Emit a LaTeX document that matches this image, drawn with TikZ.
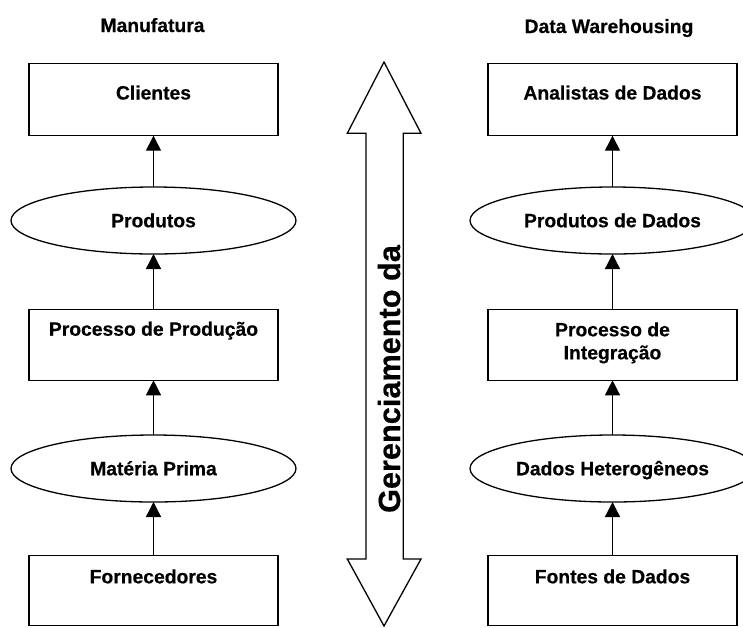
\documentclass[tikz,border=0pt]{standalone}
\usepackage{fontspec}
\setmainfont{Liberation Sans}[BoldFont={Liberation Sans Bold},BoldFeatures={FakeBold=0.5}]
\usetikzlibrary{shapes.geometric,arrows.meta}
\begin{document}
\begin{tikzpicture}[x=1pt,y=-1pt,
  every node/.style={font=\fontsize{19.3}{23}\selectfont\bfseries, inner sep=0pt, outer sep=0pt},
  stage/.style={draw, line width=1.3pt, rectangle, minimum width=249pt},
  pool/.style={draw, line width=1.3pt, ellipse, minimum width=285pt, minimum height=67pt,
               text height=13.5pt, text depth=0pt},
  flow/.style={line width=1.3pt, -{Triangle[length=15pt,width=15pt]}},
  heading/.style={anchor=base},
  axislabel/.style={font=\fontsize{30.7}{36}\selectfont\bfseries, rotate=90, anchor=base}
]
\useasboundingbox (0,0) rectangle (743,627);
\clip (0,0) rectangle (743,627);

% column headings
\node[heading] (hman) at (152.5,32) {Manufatura};
\node[heading] (hdw)  at (609,33) {Data Warehousing};

% manufacturing chain
\node[stage, text height=36.2pt, text depth=36.2pt] (cli)  at (153.5,99.5)  {Clientes};
\node[pool]                                          (prod) at (153.5,220.5) {Produtos};
\node[stage, text height=26.4pt, text depth=44.6pt] (proc) at (153.5,344.8) {Processo de Produção};
\node[pool]                                          (mat)  at (153.5,468.5) {Matéria Prima};
\node[stage, text height=27.6pt, text depth=42.2pt] (forn) at (153.5,590.6) {Fornecedores};

% data warehousing chain
\node[stage, text height=36.2pt, text depth=36.2pt] (ana)  at (612.5,99.5)  {Analistas de Dados};
\node[pool]                                          (pdd)  at (612.5,220.5) {Produtos de Dados};
\node[stage, text height=50pt, text depth=21pt]     (integ) at (612.5,344.8)
  {\begin{tabular}[b]{@{}c@{}}Processo de\\Integração\end{tabular}};
\node[pool]                                          (het)  at (612.5,468.5) {Dados Heterogêneos};
\node[stage, text height=27.6pt, text depth=42.2pt] (font) at (612.5,590.6) {Fontes de Dados};

% flows
\draw[flow] (forn) -- (mat);
\draw[flow] (mat) -- (proc);
\draw[flow] (proc) -- (prod);
\draw[flow] (prod) -- (cli);
\draw[flow] (font) -- (het);
\draw[flow] (het) -- (integ);
\draw[flow] (integ) -- (pdd);
\draw[flow] (pdd) -- (ana);

% central double-headed arrow
\draw[line width=1.3pt, line join=miter]
  (384,62) -- (421,133.3) -- (403.3,133.3) -- (403.3,559) -- (421,559) -- (384,626)
  -- (347.3,559) -- (366,559) -- (366,133.3) -- (347.3,133.3) -- cycle;
\node[axislabel] (mgmt) at (400,379) {Gerenciamento da};
\end{tikzpicture}
\end{document}
